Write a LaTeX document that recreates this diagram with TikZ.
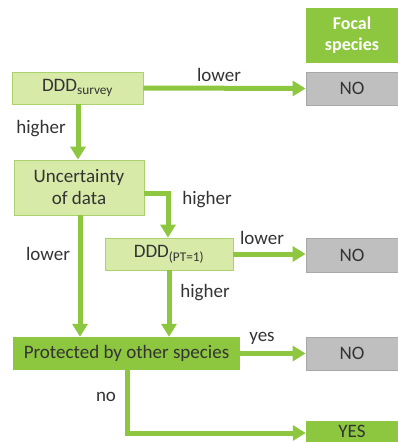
\documentclass[tikz,border=0pt]{standalone}
\usepackage{fontspec}
\setmainfont{Carlito}
\usetikzlibrary{arrows.meta}
\definecolor{dgreen}{HTML}{8DC63F}
\definecolor{lgreen}{HTML}{D7EAA8}
\definecolor{lborder}{HTML}{ABD26E}
\definecolor{gbox}{HTML}{BFBFBF}
\definecolor{gborder}{HTML}{A8A8A8}
\definecolor{txt}{HTML}{333333}
\tikzset{
  lbox/.style={draw=lborder, line width=0.8pt, fill=lgreen, text=txt, inner sep=0pt, align=center},
  gboxs/.style={draw=gborder, line width=0.8pt, fill=gbox, text=txt, inner sep=0pt, minimum width=92pt, align=center},
  dbox/.style={fill=dgreen, text=txt, inner sep=0pt, align=center},
  arr/.style={draw=dgreen, line width=5pt, -{Triangle[length=13pt,width=15pt]}},
  lab/.style={text=txt, inner sep=0pt},
}
\begin{document}
\begin{tikzpicture}[x=1pt,y=-1pt,font=\fontsize{19}{20}\selectfont]
\useasboundingbox (0,0) rectangle (398,442);
% boxes
\node[dbox, minimum width=92pt, minimum height=55pt, text=white, font=\fontsize{18}{21}\selectfont\bfseries] (focal) at (352,35.5) {Focal\\species};
\node[gboxs, minimum height=33pt] (no1) at (352,88.5) {NO};
\node[lbox, minimum width=131pt, minimum height=32pt] (survey) at (77.5,88) {DDD\textsubscript{survey}};
\node[lbox, minimum width=130pt, minimum height=55pt, font=\fontsize{19}{22}\selectfont] (unc) at (79,187.5) {Uncertainty\\of data};
\node[lbox, minimum width=128pt, minimum height=32pt] (pt) at (169,254) {DDD\textsubscript{(PT=1)}};
\node[gboxs, minimum height=34pt] (no2) at (352,255) {NO};
\node[dbox, minimum width=227pt, minimum height=33pt] (prot) at (126.5,353.5) {Protected by other species};
\node[gboxs, minimum height=33pt] (no3) at (352,353.5) {NO};
\node[dbox, minimum width=92pt, minimum height=21pt] (yes) at (352,431.5) {YES};
% connectors
\draw[arr] (survey.east) -- (no1.west);
\node[lab] (l1) at (219,75) {lower};
\draw[arr] (survey.south -| 78,0) -- (unc.north -| 78,0);
\node[lab] (l2) at (41,129) {higher};
\coordinate (c1) at (168,193);
\draw[arr] (unc.east |- c1) -- (c1) -- (pt.north -| c1);
\node[lab] (l3) at (207,200) {higher};
\draw[arr] (pt.east) -- (no2.west |- pt.east);
\node[lab] (l4) at (262,238) {lower};
\draw[arr] (unc.south -| 80,0) -- (prot.north -| 80,0);
\node[lab] (l5) at (48,254) {lower};
\draw[arr] (pt.south -| 169,0) -- (prot.north -| 169,0);
\node[lab] (l6) at (205,293) {higher};
\draw[arr] (prot.east) -- (no3.west);
\node[lab] (l7) at (262,338) {yes};
\coordinate (c2) at (127,433);
\draw[arr] (prot.south -| c2) -- (c2) -- (yes.west |- c2);
\node[lab] (l8) at (106,397) {no};
\end{tikzpicture}
\end{document}
